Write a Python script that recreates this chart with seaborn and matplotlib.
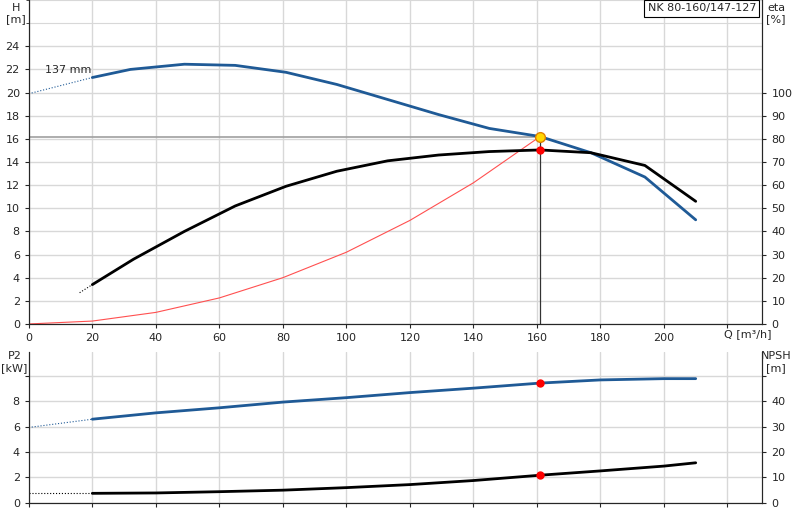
import numpy as np
import pandas as pd
import seaborn as sns
import matplotlib.pyplot as plt

# pump curve data
q_h = [20, 32, 49, 65, 81, 97, 113, 129, 145, 161, 177, 194, 210]
h = [21.3, 22.0, 22.45, 22.35, 21.75, 20.7, 19.4, 18.1, 16.9, 16.2, 14.8, 12.7, 9.0]
q_h_dash = [0, 20]
h_dash = [19.9, 21.3]

q_eta = [20, 33, 49, 65, 81, 97, 113, 129, 145, 161, 177, 194, 210]
eta = [17, 28, 40, 51, 59.5, 66, 70.5, 73, 74.5, 75.2, 74, 68.5, 53]
q_eta_dash = [16, 20]
eta_dash = [13.5, 17]

q_sys = [0, 20, 40, 60, 80, 100, 120, 140, 161]
h_sys = [0, 0.25, 1.0, 2.25, 4.0, 6.2, 8.95, 12.2, 16.2]

q_p2 = [20, 40, 60, 80, 100, 120, 140, 161, 180, 200, 210]
p2 = [6.6, 7.1, 7.5, 7.95, 8.3, 8.7, 9.05, 9.45, 9.7, 9.8, 9.8]
q_p2_dash = [0, 20]
p2_dash = [5.95, 6.6]

q_npsh = [20, 40, 60, 80, 100, 120, 140, 161, 180, 200, 210]
npsh = [3.75, 3.9, 4.4, 5.0, 6.0, 7.2, 8.8, 10.9, 12.6, 14.5, 15.8]
q_npsh_dash = [0, 20]
npsh_dash = [3.75, 3.75]

duty_q, duty_h, duty_eta, duty_p2, duty_npsh = 161, 16.2, 75.2, 9.45, 10.9

blue = '#1f5a96'
sns.set_style('white')
plt.rcParams['font.family'] = ['DejaVu Sans']

fig = plt.figure(figsize=(8, 5.2), dpi=100)
ax = fig.add_axes([0.036, 0.377, 0.917, 0.623])
ax2 = ax.twinx()
bx = fig.add_axes([0.036, 0.033, 0.917, 0.29])
bx2 = bx.twinx()

for a in (ax, bx):
    a.set_xlim(0, 231)
    a.set_xticks(range(0, 240, 20))
    a.grid(True, color='#d8d8d8', lw=1)
    a.set_axisbelow(True)
    a.tick_params(labelsize=8, length=3, direction='out', left=True, bottom=True)
    a.spines['top'].set_visible(False)
for a in (ax2, bx2):
    a.tick_params(labelsize=8, length=3, direction='out', right=True)
    a.spines['top'].set_visible(False)

ax.set_ylim(0, 28)
ax.set_yticks(range(0, 26, 2))
ax.set_yticks(range(0, 29, 2), minor=True)
ax.grid(True, which='minor', axis='y', color='#d8d8d8')
ax2.set_ylim(0, 140)
ax2.set_yticks(range(0, 101, 10))
ax.set_xticklabels([str(v) for v in range(0, 220, 20)] + [''])

bx.set_ylim(0, 11.9)
bx.set_yticks([0, 2, 4, 6, 8, 10])
bx.set_yticklabels(['0', '2', '4', '6', '8', ''])
bx2.set_ylim(0, 59.5)
bx2.set_yticks([0, 10, 20, 30, 40, 50])
bx2.set_yticklabels(['0', '10', '20', '30', '40', ''])
bx.set_xticklabels([])

# top chart
ax.plot([0, duty_q], [duty_h, duty_h], color='#a0a0a0', lw=1.2)
ax.plot([duty_q, duty_q], [0, duty_h], color='#333333', lw=0.9)
sns.lineplot(x=q_sys, y=h_sys, ax=ax, color='#ff5050', lw=0.8)
sns.lineplot(x=q_h_dash, y=h_dash, ax=ax, color=blue, lw=0.8, ls=':')
sns.lineplot(x=q_h, y=h, ax=ax, color=blue, lw=2)
sns.lineplot(x=q_eta_dash, y=eta_dash, ax=ax2, color='black', lw=0.8, ls=':')
sns.lineplot(x=q_eta, y=eta, ax=ax2, color='black', lw=2)
ax2.plot(duty_q, duty_eta, 'o', color='red', ms=5)
ax.plot(duty_q, duty_h, 'o', color='#ffd700', mec='#e08000', ms=7, zorder=5)
ax.text(5, 21.7, '137 mm', fontsize=8)
ax.text(229, 27.7, 'NK 80-160/147-127', fontsize=8, ha='right', va='top',
        bbox=dict(boxstyle='square,pad=0.3', fc='white', ec='black', lw=0.8))
ax.text(219, -0.9, 'Q [m³/h]', fontsize=8, va='center')
fig.text(0.02, 0.995, 'H\n[m]', fontsize=8, ha='center', va='top')
fig.text(0.97, 0.995, 'eta\n[%]', fontsize=8, ha='center', va='top')

# bottom chart
sns.lineplot(x=q_p2_dash, y=p2_dash, ax=bx, color=blue, lw=0.8, ls=':')
sns.lineplot(x=q_p2, y=p2, ax=bx, color=blue, lw=2)
sns.lineplot(x=q_npsh_dash, y=npsh_dash, ax=bx2, color='black', lw=0.8, ls=':')
sns.lineplot(x=q_npsh, y=npsh, ax=bx2, color='black', lw=2)
bx.plot(duty_q, duty_p2, 'o', color='red', ms=5)
bx2.plot(duty_q, duty_npsh, 'o', color='red', ms=5)
fig.text(0.018, 0.325, 'P2\n[kW]', fontsize=8, ha='center', va='top')
fig.text(0.97, 0.325, 'NPSH\n[m]', fontsize=8, ha='center', va='top')

fig.savefig('out.png', dpi=100)
